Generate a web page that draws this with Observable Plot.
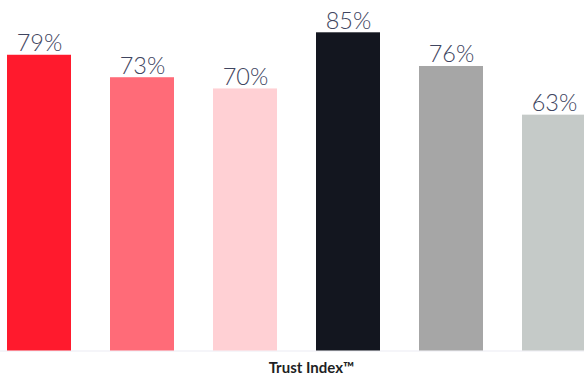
<!DOCTYPE html>
<html>
<head>
<meta charset="utf-8">
<script src="https://cdn.jsdelivr.net/npm/d3@7"></script>
<script src="https://cdn.jsdelivr.net/npm/@observablehq/plot@0.6"></script>
<style>
  html, body { margin: 0; padding: 0; background: #fff; }
  #chart svg { display: block; }
</style>
</head>
<body>
<div id="chart"></div>
<script>
const categories = ["A", "B", "C", "D", "E", "F"];
const values = [79, 73, 70, 85, 76, 63];
const labels = ["79%", "73%", "70%", "85%", "76%", "63%"];
const colors = ["#ff1a2d", "#ff6b78", "#ffd0d4", "#13161f", "#a6a6a6", "#c5cac8"];
const axisTitle = "Trust Index™";

const data = categories.map((c, i) => ({cat: c, value: values[i], label: labels[i], color: colors[i]}));

const chart = Plot.plot({
  width: 584,
  height: 376,
  marginTop: 32.3,
  marginBottom: 25.5,
  marginLeft: 0,
  marginRight: 0,
  style: {background: "#fff", fontFamily: "Lato, sans-serif"},
  x: {domain: categories, range: [7, 586.4], paddingInner: 0.375, paddingOuter: 0, axis: null},
  y: {domain: [0, 85], axis: null},
  marks: [
    Plot.ruleY([0], {stroke: "#ecebf3", strokeWidth: 1.2}),
    Plot.barY(data, {x: "cat", y: "value", fill: "color"}),
    Plot.text(data, {
      x: "cat", y: "value", text: "label",
      lineAnchor: "bottom", dy: -4,
      fontSize: 23.5, fontWeight: 300, fill: "#404560"
    }),
    Plot.text([axisTitle], {
      frameAnchor: "bottom", dy: 22, dx: 19,
      fontSize: 15, fontWeight: "bold", fill: "#1e1f24"
    })
  ]
});
document.getElementById("chart").appendChild(chart);
</script>
</body>
</html>
